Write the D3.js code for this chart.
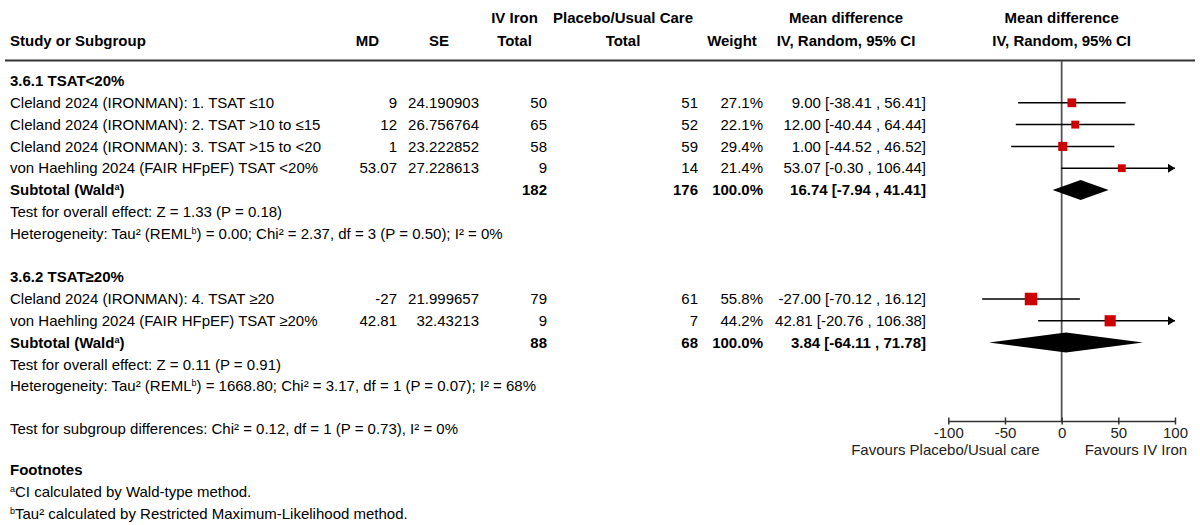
<!DOCTYPE html>
<html>
<head>
<meta charset="utf-8">
<script src="https://cdn.jsdelivr.net/npm/d3@7"></script>
<style>
  html, body { margin: 0; padding: 0; background: #fff; }
  svg { display: block; }
</style>
</head>
<body>
<svg id="chart" width="1200" height="525"></svg>
<script>
// ---------------- DATA ----------------
const group1Title = "3.6.1 TSAT<20%";
const group1Studies = [
  "Cleland 2024 (IRONMAN): 1. TSAT \u226410",
  "Cleland 2024 (IRONMAN): 2. TSAT >10 to \u226415",
  "Cleland 2024 (IRONMAN): 3. TSAT >15 to <20",
  "von Haehling 2024 (FAIR HFpEF) TSAT <20%"
];
const group1MD = [9, 12, 1, 53.07];
const group1MDLabel = ["9", "12", "1", "53.07"];
const group1SE = ["24.190903", "26.756764", "23.222852", "27.228613"];
const group1IVTotal = [50, 65, 58, 9];
const group1PlTotal = [51, 52, 59, 14];
const group1Weight = [27.1, 22.1, 29.4, 21.4];
const group1Lo = [-38.41, -40.44, -44.52, -0.30];
const group1Hi = [56.41, 64.44, 46.52, 106.44];
const group1Subtotal = { md: 16.74, lo: -7.94, hi: 41.41, iv: 182, pl: 176 };
const group1Tests = [
  ["Test for overall effect: Z = 1.33 (P = 0.18)"],
  ["Heterogeneity: Tau\u00b2 (REML", "b", ") = 0.00; Chi\u00b2 = 2.37, df = 3 (P = 0.50); I\u00b2 = 0%"]
];

const group2Title = "3.6.2 TSAT\u226520%";
const group2Studies = [
  "Cleland 2024 (IRONMAN): 4. TSAT \u226520",
  "von Haehling 2024 (FAIR HFpEF) TSAT \u226520%"
];
const group2MD = [-27, 42.81];
const group2MDLabel = ["-27", "42.81"];
const group2SE = ["21.999657", "32.43213"];
const group2IVTotal = [79, 9];
const group2PlTotal = [61, 7];
const group2Weight = [55.8, 44.2];
const group2Lo = [-70.12, -20.76];
const group2Hi = [16.12, 106.38];
const group2Subtotal = { md: 3.84, lo: -64.11, hi: 71.78, iv: 88, pl: 68 };
const group2Tests = [
  ["Test for overall effect: Z = 0.11 (P = 0.91)"],
  ["Heterogeneity: Tau\u00b2 (REML", "b", ") = 1668.80; Chi\u00b2 = 3.17, df = 1 (P = 0.07); I\u00b2 = 68%"]
];

const subgroupDiffText = "Test for subgroup differences: Chi\u00b2 = 0.12, df = 1 (P = 0.73), I\u00b2 = 0%";
const axisTicks = [-100, -50, 0, 50, 100];
const favoursLeft = "Favours Placebo/Usual care";
const favoursRight = "Favours IV Iron";
const footnoteTitle = "Footnotes";
const footnotes = [["", "a", "CI calculated by Wald-type method."], ["", "b", "Tau\u00b2 calculated by Restricted Maximum-Likelihood method."]];

// ---------------- LAYOUT ----------------
const FONT = "'Liberation Sans', Arial, Helvetica, sans-serif";
const FS = 15;
const BASE = 5.25; // center -> baseline offset
const svg = d3.select("#chart").style("font-family", FONT).style("font-size", FS + "px");

const x = d3.scaleLinear().domain([-100, 100]).range([948.3, 1175]);
const row = d3.scaleLinear().domain([0, 1]).range([81, 102.8]); // row index -> center y

const col = { label: 10, md: 397, se: 479, iv: 547, pl: 698, wt: 763, ci: 926 };
const fmtCI = (m, lo, hi) => `${m.toFixed(2)} [${lo.toFixed(2)} , ${hi.toFixed(2)}]`;

function txt(xp, yp, s, anchor = "start", bold = false) {
  return svg.append("text").attr("x", xp).attr("y", yp + BASE)
    .attr("text-anchor", anchor).attr("fill", "#000")
    .attr("font-weight", bold ? "bold" : "normal").text(s);
}
function supText(xp, yp, parts, bold = false) {
  // parts: [normal, sup, normal, ...]
  const t = svg.append("text").attr("x", xp).attr("y", yp + BASE)
    .attr("fill", "#000").attr("font-weight", bold ? "bold" : "normal");
  parts.forEach((p, i) => {
    if (i % 2 === 1) {
      t.append("tspan").attr("font-size", "9px").attr("dy", -5).text(p);
    } else {
      t.append("tspan").attr("dy", i === 0 ? 0 : 5).text(p);
    }
  });
  return t;
}

// headers
txt(514.5, 18, "IV Iron", "middle", true);
txt(623, 18, "Placebo/Usual Care", "middle", true);
txt(846, 18, "Mean difference", "middle", true);
txt(x(0), 18, "Mean difference", "middle", true);
txt(col.label, 41, "Study or Subgroup", "start", true);
txt(367.5, 41, "MD", "middle", true);
txt(439, 41, "SE", "middle", true);
txt(514.5, 41, "Total", "middle", true);
txt(623, 41, "Total", "middle", true);
txt(732, 41, "Weight", "middle", true);
txt(846, 41, "IV, Random, 95% CI", "middle", true);
txt(x(0), 41, "IV, Random, 95% CI", "middle", true);

svg.append("line").attr("x1", 5).attr("x2", 1195).attr("y1", 60.5).attr("y2", 60.5)
  .attr("stroke", "#333").attr("stroke-width", 2);

// zero line
const axisY = 421;
svg.append("line").attr("x1", x(0)).attr("x2", x(0)).attr("y1", 61).attr("y2", axisY)
  .attr("stroke", "#555").attr("stroke-width", 1.8);

const plot = svg.append("g");

function drawGroup(startIdx, title, studies, mdVals, mdLabels, seVals, ivT, plT, wts, los, his, sub, tests) {
  txt(col.label, row(startIdx), title, "start", true);
  studies.forEach((s, i) => {
    const y = row(startIdx + 1 + i);
    txt(col.label, y, s);
    txt(col.md, y, mdLabels[i], "end");
    txt(col.se, y, seVals[i], "end");
    txt(col.iv, y, ivT[i], "end");
    txt(col.pl, y, plT[i], "end");
    txt(col.wt, y, wts[i].toFixed(1) + "%", "end");
    txt(col.ci, y, fmtCI(mdVals[i], los[i], his[i]), "end");
    // CI line
    const lo = Math.max(los[i], -100), hi = Math.min(his[i], 100);
    plot.append("line").attr("x1", x(lo)).attr("x2", x(hi)).attr("y1", y).attr("y2", y)
      .attr("stroke", "#000").attr("stroke-width", 1.5);
    if (his[i] > 100) {
      const ax = x(100);
      plot.append("path").attr("d", `M${ax},${y} L${ax - 7},${y - 4.5} L${ax - 7},${y + 4.5} Z`).attr("fill", "#000");
    }
    if (los[i] < -100) {
      const ax = x(-100);
      plot.append("path").attr("d", `M${ax},${y} L${ax + 7},${y - 4.5} L${ax + 7},${y + 4.5} Z`).attr("fill", "#000");
    }
    const sz = 1.68 * Math.sqrt(wts[i]);
    plot.append("rect").attr("x", x(mdVals[i]) - sz / 2).attr("y", y - sz / 2)
      .attr("width", sz).attr("height", sz).attr("fill", "#cc0000");
  });
  const sy = row(startIdx + 1 + studies.length);
  supText(col.label, sy, ["Subtotal (Wald", "a", ")"], true);
  txt(col.iv, sy, sub.iv, "end", true);
  txt(col.pl, sy, sub.pl, "end", true);
  txt(col.wt, sy, "100.0%", "end", true);
  txt(col.ci, sy, fmtCI(sub.md, sub.lo, sub.hi), "end", true);
  plot.append("path")
    .attr("d", `M${x(sub.lo)},${sy} L${x(sub.md)},${sy - 10} L${x(sub.hi)},${sy} L${x(sub.md)},${sy + 10} Z`)
    .attr("fill", "#000");
  tests.forEach((t, i) => {
    supText(col.label, row(startIdx + 2 + studies.length + i), t);
  });
}

drawGroup(0, group1Title, group1Studies, group1MD, group1MDLabel, group1SE, group1IVTotal, group1PlTotal,
  group1Weight, group1Lo, group1Hi, group1Subtotal, group1Tests);
drawGroup(9, group2Title, group2Studies, group2MD, group2MDLabel, group2SE, group2IVTotal, group2PlTotal,
  group2Weight, group2Lo, group2Hi, group2Subtotal, group2Tests);

txt(col.label, 429, subgroupDiffText);

// axis
const axis = d3.axisBottom(x).tickValues(axisTicks).tickFormat(d => String(d))
  .tickSizeInner(3.5).tickSizeOuter(0).tickPadding(3.3);
const ag = svg.append("g").attr("transform", `translate(0,${axisY})`).call(axis);
ag.attr("font-size", FS).attr("font-family", FONT);
ag.select(".domain").attr("stroke", "#333").attr("stroke-width", 1.5);
ag.selectAll(".tick line").attr("y1", -3.5).attr("y2", 3.5).attr("stroke", "#333").attr("stroke-width", 1.5);
ag.selectAll(".tick text").attr("fill", "#222");

txt(x(0) - 22, 450, favoursLeft, "end").attr("fill", "#222");
txt(x(0) + 23, 450, favoursRight, "start").attr("fill", "#222");

// footnotes
txt(col.label, 470, footnoteTitle, "start", true);
footnotes.forEach((f, i) => {
  supText(col.label, 492 + 22 * i, f);
});
</script>
</body>
</html>
